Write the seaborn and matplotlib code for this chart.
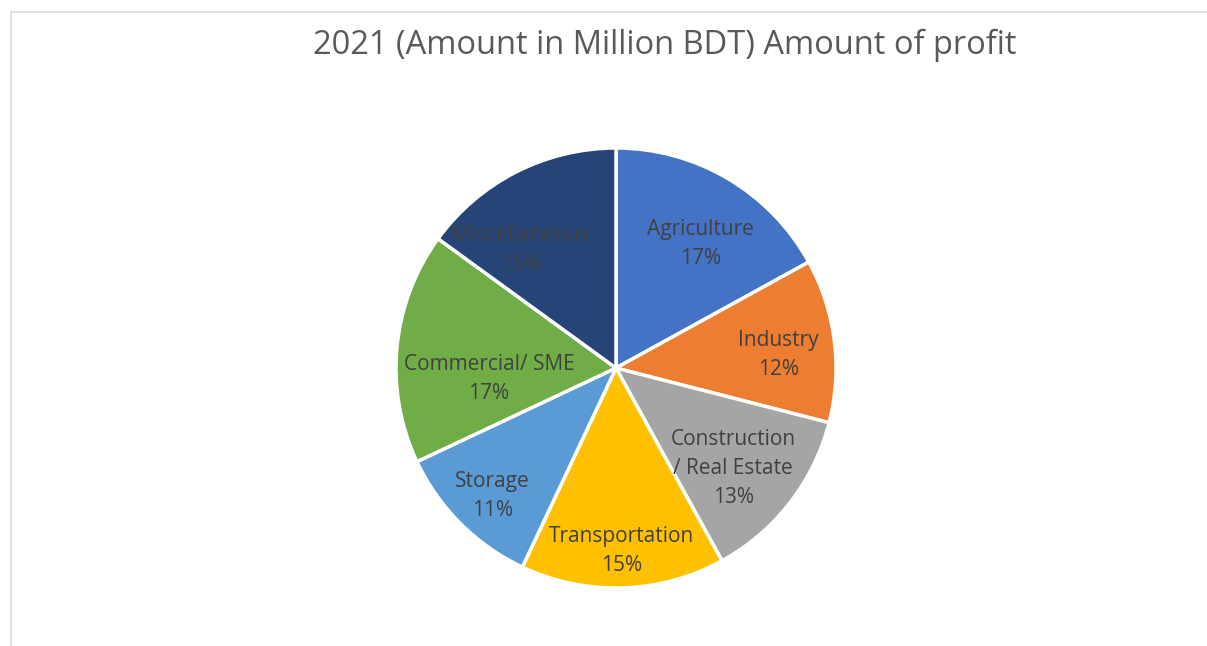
import numpy as np
import matplotlib
matplotlib.use("Agg")
import matplotlib.pyplot as plt
from matplotlib.patches import Rectangle
import seaborn as sns

# Profit share by sector, 2021
sectors = ["Agriculture", "Industry", "Construction\n/ Real Estate", "Transportation",
           "Storage", "Commercial/ SME", "Miscellaneous"]
shares = [17, 12, 13, 15, 11, 17, 15]
colors = ["#4472C4", "#ED7D31", "#A5A5A5", "#FFC000", "#5B9BD5", "#70AD47", "#264478"]
title = "2021 (Amount in Million BDT) Amount of profit"

# label placement: radial distance (fraction of radius) and angle shift (deg)
label_r = [0.68, 0.74, 0.70, 0.83, 0.81, 0.58, 0.69]
label_dt = [-3.7, -2.6, -2.7, 0.0, 1.0, 10.4, 12.0]

sns.set_theme(style="white")
plt.rcParams["font.family"] = ["Open Sans", "DejaVu Sans"]

W, H = 1207, 646
fig = plt.figure(figsize=(W / 100, H / 100), dpi=100)
fig.patch.set_facecolor("white")

# thin chart-area frame on the top and left
fig.patches.append(Rectangle((11 / W, -0.2), 1.2, 1.2 - 12 / H,
                             transform=fig.transFigure, fill=False,
                             edgecolor="#D9D9D9", linewidth=1.2))

cx, cy, R = 616, 368, 220
ax = fig.add_axes([(cx - R) / W, (H - cy - R) / H, 2 * R / W, 2 * R / H])
palette = sns.color_palette(colors)
wedges, _ = ax.pie(shares, colors=palette, startangle=90, counterclock=False,
                   radius=1.0, wedgeprops=dict(edgecolor="white", linewidth=2.5,
                                               clip_on=False))
ax.set_aspect("equal")
ax.set_xlim(-1.0, 1.0)
ax.set_ylim(-1.0, 1.0)
ax.axis("off")

total = sum(shares)
for w, name, v, r, dt in zip(wedges, sectors, shares, label_r, label_dt):
    th = np.deg2rad((w.theta1 + w.theta2) / 2 + dt)
    ax.text(r * np.cos(th), r * np.sin(th), f"{name}\n{round(100 * v / total)}%",
            ha="center", va="center", fontsize=15, color="#404040",
            linespacing=1.5, multialignment="center")

fig.text(665 / W, 1 - 45 / H, title, ha="center", va="center",
         fontsize=23.5, color="#595959")

fig.savefig("out.png", dpi=100, facecolor="white")
